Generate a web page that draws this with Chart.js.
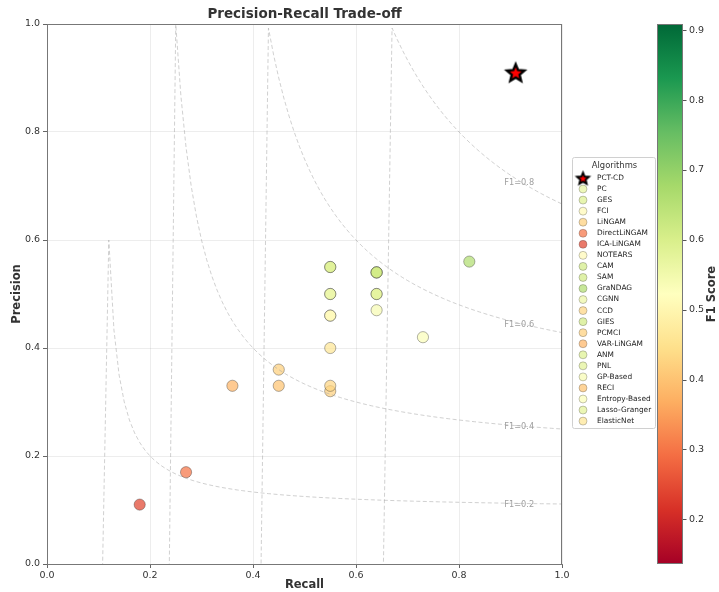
<!DOCTYPE html>
<html>
<head>
<meta charset="utf-8">
<script src="https://cdn.jsdelivr.net/npm/chart.js@4.4.0/dist/chart.umd.min.js"></script>
<style>
  body { margin: 0; background: #fff; }
  canvas { display: block; }
</style>
</head>
<body>
<canvas id="prChart" width="719" height="592"></canvas>
<script>
// Datos (orden de la leyenda)
const algorithms = ['PC', 'GES', 'FCI', 'LiNGAM', 'DirectLiNGAM', 'ICA-LiNGAM', 'NOTEARS', 'CAM', 'SAM',
    'GraNDAG', 'CGNN', 'CCD', 'GIES', 'PCMCI', 'VAR-LiNGAM', 'ANM', 'PNL', 'GP-Based', 'RECI',
    'Entropy-Based', 'Lasso-Granger', 'ElasticNet'];
const recall    = [0.55, 0.55, 0.55, 0.55, 0.27, 0.18, 0.55, 0.64, 0.64, 0.82, 0.55, 0.55, 0.64, 0.45, 0.36, 0.55, 0.64, 0.64, 0.45, 0.73, 0.64, 0.55];
const precision = [0.50, 0.55, 0.46, 0.32, 0.17, 0.11, 0.46, 0.54, 0.54, 0.56, 0.50, 0.33, 0.54, 0.36, 0.33, 0.55, 0.50, 0.47, 0.33, 0.42, 0.50, 0.40];
const f1Score   = [0.57, 0.59, 0.51, 0.42, 0.30, 0.24, 0.51, 0.61, 0.61, 0.66, 0.56, 0.43, 0.61, 0.42, 0.38, 0.59, 0.58, 0.54, 0.40, 0.53, 0.58, 0.46];

const ourName = 'PCT-CD';
const ourRecall = 0.91;
const ourPrecision = 0.91;

const isoLevels = [0.2, 0.4, 0.6, 0.8];
const axisTicks = [0, 0.2, 0.4, 0.6, 0.8, 1.0];
const colorbarTicks = [0.2, 0.3, 0.4, 0.5, 0.6, 0.7, 0.8, 0.9];
const f1Min = 0.136;
const f1Max = 0.909;

// Colormap RdYlGn (matplotlib)
const rdylgn = ['#a50026', '#d73027', '#f46d43', '#fdae61', '#fee08b', '#ffffbf',
    '#d9ef8b', '#a6d96a', '#66bd63', '#1a9850', '#006837'];

function hexToRgb(h) {
    return [parseInt(h.slice(1, 3), 16), parseInt(h.slice(3, 5), 16), parseInt(h.slice(5, 7), 16)];
}

function f1Color(v, alpha) {
    let t = (v - f1Min) / (f1Max - f1Min);
    t = Math.max(0, Math.min(1, t)) * (rdylgn.length - 1);
    const i = Math.min(Math.floor(t), rdylgn.length - 2);
    const a = hexToRgb(rdylgn[i]), b = hexToRgb(rdylgn[i + 1]);
    const k = t - i;
    const c = a.map((x, j) => Math.round(x + (b[j] - x) * k));
    return `rgba(${c[0]},${c[1]},${c[2]},${alpha})`;
}

// Curvas iso-F1: precision = f*r / (2r - f), muestreo de recall cada 0.01
function isoCurve(f) {
    const pts = [];
    for (let i = 0; i < 100; i++) {
        const r = 0.01 + i * 0.01;
        const den = 2 * r - f;
        if (Math.abs(den) < 1e-9) continue;
        const p = f * r / den;
        if (p <= 1 + 1e-9) pts.push({x: r, y: p});
    }
    return pts;
}

function makeStar(outer, inner, lw) {
    const size = Math.ceil(2 * outer + 2 * lw + 2);
    const c = document.createElement('canvas');
    c.width = size; c.height = size;
    const g = c.getContext('2d');
    g.beginPath();
    for (let i = 0; i < 10; i++) {
        const r = i % 2 === 0 ? outer : inner;
        const a = -Math.PI / 2 + i * Math.PI / 5;
        const px = size / 2 + r * Math.cos(a), py = size / 2 + r * Math.sin(a) + 0.8;
        if (i === 0) g.moveTo(px, py); else g.lineTo(px, py);
    }
    g.closePath();
    g.fillStyle = '#ff0000';
    g.fill();
    g.lineWidth = lw;
    g.lineJoin = 'miter';
    g.strokeStyle = '#000';
    g.stroke();
    return c;
}

const bigStar = makeStar(9.2, 4.1, 2.4);
const smallStar = makeStar(6.2, 2.8, 1.9);

Chart.defaults.font.family = "'DejaVu Sans', sans-serif";
Chart.defaults.color = '#333';

const isoDatasets = isoLevels.map(f => ({
    label: 'F1=' + f,
    type: 'line',
    data: isoCurve(f),
    borderColor: 'rgba(170,170,170,0.55)',
    borderWidth: 1,
    borderDash: [4, 2.5],
    pointRadius: 0,
    tension: 0,
    fill: false,
    clip: 0
}));

const algoDataset = {
    label: 'Algorithms',
    data: recall.map((r, i) => ({x: r, y: precision[i]})),
    pointRadius: 5.6,
    pointBackgroundColor: f1Score.map(v => f1Color(v, 0.72)),
    pointBorderColor: 'rgba(40,40,40,0.45)',
    pointBorderWidth: 0.8,
    clip: false
};

const ourDataset = {
    label: ourName,
    data: [{x: ourRecall, y: ourPrecision}],
    pointStyle: bigStar,
    pointRadius: 10,
    clip: false
};

// Texto de las curvas, leyenda y barra de color
const extrasPlugin = {
    id: 'extras',
    afterDatasetsDraw(chart) {
        const {ctx, chartArea, scales} = chart;
        ctx.save();
        ctx.font = "8.2px 'DejaVu Sans'";
        ctx.fillStyle = '#a0a0a0';
        ctx.textAlign = 'left';
        ctx.textBaseline = 'middle';
        isoLevels.forEach(f => {
            const rl = 0.92;
            const p = f * rl / (2 * rl - f);
            ctx.fillText('F1=' + f, scales.x.getPixelForValue(0.888), scales.y.getPixelForValue(p) + 1);
        });
        // marco superior y derecho
        ctx.strokeStyle = '#777';
        ctx.lineWidth = 1;
        ctx.strokeRect(chartArea.left + 0.5, chartArea.top + 0.5, chartArea.right - chartArea.left - 1, chartArea.bottom - chartArea.top);
        ctx.restore();
    },
    afterDraw(chart) {
        const {ctx, chartArea} = chart;
        ctx.save();

        // Título
        ctx.fillStyle = '#333';
        ctx.font = "bold 13.5px 'DejaVu Sans'";
        ctx.textAlign = 'center';
        ctx.textBaseline = 'middle';
        ctx.fillText('Precision-Recall Trade-off', (chartArea.left + chartArea.right) / 2, 14);

        // Leyenda
        const lx = 572, ly = 157, lw = 83, lh = 271;
        ctx.fillStyle = 'rgba(255,255,255,0.85)';
        ctx.strokeStyle = '#d0d0d0';
        ctx.lineWidth = 1;
        ctx.beginPath();
        ctx.roundRect(lx + 0.5, ly + 0.5, lw, lh, 2);
        ctx.fill();
        ctx.stroke();
        ctx.fillStyle = '#333';
        ctx.font = "8.4px 'DejaVu Sans'";
        ctx.textAlign = 'center';
        ctx.fillText('Algorithms', lx + lw / 2 + 1, 166);
        ctx.font = "7.4px 'DejaVu Sans'";
        ctx.textAlign = 'left';
        const rowY = i => 178 + i * 11.05;
        ctx.drawImage(smallStar, 583 - smallStar.width / 2, rowY(0) - smallStar.height / 2);
        ctx.fillStyle = '#222';
        ctx.fillText(ourName, 597, rowY(0));
        algorithms.forEach((name, i) => {
            const y = rowY(i + 1);
            ctx.beginPath();
            ctx.arc(583, y, 4, 0, Math.PI * 2);
            ctx.fillStyle = f1Color(f1Score[i], 0.72);
            ctx.fill();
            ctx.strokeStyle = 'rgba(40,40,40,0.45)';
            ctx.lineWidth = 0.6;
            ctx.stroke();
            ctx.fillStyle = '#222';
            ctx.fillText(name, 597, y);
        });

        // Barra de color
        const cx = 657, cw = 26, top = chartArea.top, bottom = chartArea.bottom;
        const grad = ctx.createLinearGradient(0, bottom, 0, top);
        rdylgn.forEach((c, i) => grad.addColorStop(i / (rdylgn.length - 1), c));
        ctx.fillStyle = grad;
        ctx.fillRect(cx, top, cw, bottom - top);
        ctx.strokeStyle = '#777';
        ctx.lineWidth = 1;
        ctx.strokeRect(cx + 0.5, top + 0.5, cw - 1, bottom - top - 1);
        ctx.font = "9.5px 'DejaVu Sans'";
        ctx.fillStyle = '#333';
        ctx.textAlign = 'left';
        colorbarTicks.forEach(v => {
            const y = bottom - (v - f1Min) / (f1Max - f1Min) * (bottom - top);
            ctx.beginPath();
            ctx.moveTo(cx + cw, Math.round(y) + 0.5);
            ctx.lineTo(cx + cw + 3.5, Math.round(y) + 0.5);
            ctx.strokeStyle = '#555';
            ctx.stroke();
            ctx.fillText(v.toFixed(1), cx + cw + 6, y);
        });
        ctx.translate(712, (top + bottom) / 2);
        ctx.rotate(-Math.PI / 2);
        ctx.textAlign = 'center';
        ctx.font = "bold 11.5px 'DejaVu Sans'";
        ctx.fillText('F1 Score', 0, 0);
        ctx.restore();
    }
};

const ctx = document.getElementById('prChart').getContext('2d');
new Chart(ctx, {
    type: 'scatter',
    data: {
        datasets: [...isoDatasets, algoDataset, ourDataset]
    },
    options: {
        responsive: false,
        animation: false,
        devicePixelRatio: 1,
        layout: {padding: {left: 0, top: 24, right: 157, bottom: 0}},
        plugins: {
            legend: {display: false},
            title: {display: false},
            tooltip: {enabled: false}
        },
        scales: {
            x: {
                type: 'linear',
                min: 0,
                max: 1,
                afterFit: s => { s.height = 28; },
                afterBuildTicks: s => { s.ticks = axisTicks.map(v => ({value: v})); },
                ticks: {
                    font: {size: 9.5},
                    color: '#333',
                    padding: 2,
                    callback: v => v.toFixed(1)
                },
                grid: {color: 'rgba(0,0,0,0.07)', tickColor: '#666', tickLength: 4},
                border: {color: '#777', width: 1},
                title: {
                    display: true,
                    text: 'Recall',
                    font: {size: 11.5, weight: 'bold'},
                    color: '#333',
                    padding: {top: 0, bottom: 0}
                }
            },
            y: {
                type: 'linear',
                min: 0,
                max: 1,
                afterFit: s => { s.width = 47; },
                afterBuildTicks: s => { s.ticks = axisTicks.map(v => ({value: v})); },
                ticks: {
                    font: {size: 9.5},
                    color: '#333',
                    padding: 3,
                    callback: v => v.toFixed(1)
                },
                grid: {color: 'rgba(0,0,0,0.07)', tickColor: '#666', tickLength: 4},
                border: {color: '#777', width: 1},
                title: {
                    display: true,
                    text: 'Precision',
                    font: {size: 11.5, weight: 'bold'},
                    color: '#333',
                    padding: {top: 10, bottom: 0}
                }
            }
        }
    },
    plugins: [extrasPlugin]
});
</script>
</body>
</html>
